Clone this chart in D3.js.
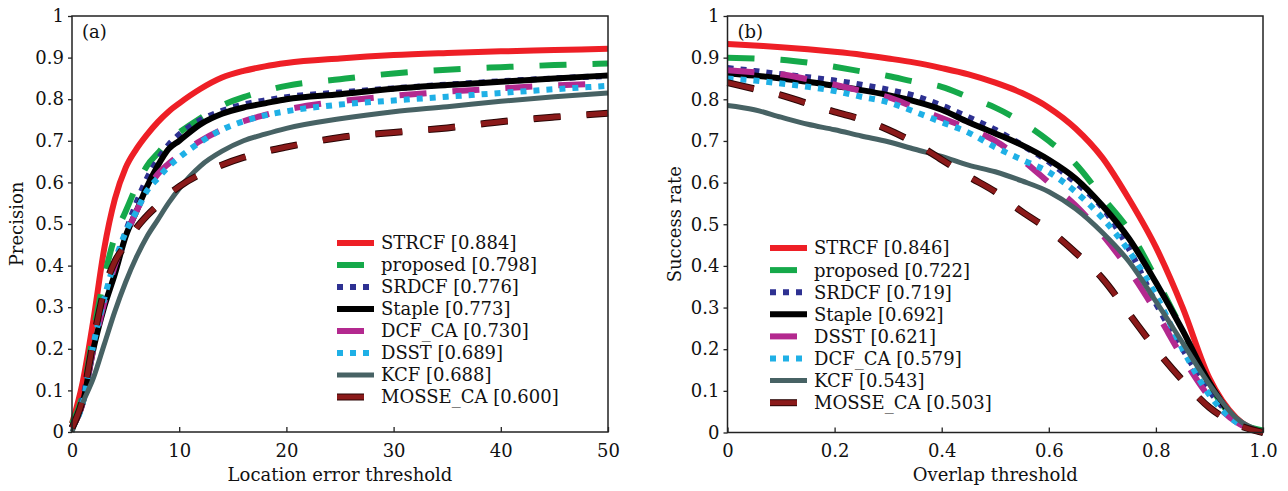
<!DOCTYPE html>
<html><head><meta charset="utf-8">
<script src="https://cdn.jsdelivr.net/npm/d3@7"></script>
<style>
html,body{margin:0;padding:0;background:#fff;}
svg text{font-family:"DejaVu Serif",serif;fill:#111;}
</style></head>
<body><svg id="c" width="1288" height="491"></svg>
<script>
// ---------- DATA ----------
const locThresholds = [0,1,2,3,4,5,6,7,8,9,10,12,14,16,18,20,25,30,35,40,45,50];
const precNames = ["STRCF [0.884]","proposed [0.798]","SRDCF [0.776]","Staple [0.773]","DCF_CA [0.730]","DSST [0.689]","KCF [0.688]","MOSSE_CA [0.600]"];
const precSTRCF   = [0.02,0.12,0.27,0.44,0.56,0.635,0.68,0.715,0.745,0.77,0.79,0.825,0.852,0.868,0.879,0.887,0.898,0.906,0.911,0.915,0.918,0.921];
const precProposed= [0.02,0.09,0.24,0.37,0.47,0.53,0.59,0.64,0.67,0.70,0.72,0.755,0.785,0.805,0.82,0.832,0.848,0.862,0.871,0.877,0.882,0.886];
const precSRDCF   = [0.01,0.08,0.21,0.31,0.40,0.48,0.55,0.61,0.655,0.69,0.715,0.75,0.772,0.787,0.797,0.805,0.816,0.826,0.835,0.843,0.85,0.856];
const precStaple  = [0.01,0.07,0.20,0.30,0.38,0.47,0.53,0.59,0.64,0.68,0.70,0.74,0.765,0.78,0.79,0.80,0.812,0.825,0.834,0.842,0.85,0.857];
const precDCFCA   = [0.01,0.07,0.20,0.31,0.40,0.47,0.53,0.58,0.62,0.645,0.665,0.70,0.727,0.747,0.762,0.775,0.795,0.808,0.818,0.826,0.833,0.838];
const precDSST    = [0.01,0.07,0.21,0.32,0.41,0.48,0.53,0.58,0.61,0.638,0.66,0.697,0.727,0.747,0.761,0.771,0.787,0.797,0.806,0.815,0.824,0.832];
const precKCF     = [0.0,0.07,0.13,0.21,0.29,0.36,0.42,0.47,0.51,0.55,0.585,0.64,0.675,0.70,0.716,0.73,0.753,0.77,0.782,0.795,0.806,0.815];
const precMOSSE   = [0.01,0.08,0.22,0.34,0.41,0.45,0.49,0.52,0.545,0.57,0.59,0.62,0.642,0.66,0.674,0.685,0.708,0.72,0.731,0.746,0.757,0.766];

const overlapThresholds = [0,0.05,0.1,0.15,0.2,0.25,0.3,0.35,0.4,0.45,0.5,0.55,0.6,0.65,0.7,0.75,0.8,0.85,0.9,0.95,1.0];
const succNames = ["STRCF [0.846]","proposed [0.722]","SRDCF [0.719]","Staple [0.692]","DSST [0.621]","DCF_CA [0.579]","KCF [0.543]","MOSSE_CA [0.503]"];
const succSTRCF   = [0.933,0.929,0.925,0.92,0.914,0.907,0.898,0.888,0.875,0.86,0.84,0.815,0.78,0.73,0.66,0.56,0.445,0.30,0.13,0.035,0.0];
const succProposed= [0.90,0.898,0.895,0.888,0.878,0.867,0.856,0.842,0.83,0.805,0.78,0.745,0.70,0.645,0.565,0.485,0.37,0.245,0.115,0.03,0.005];
const succSRDCF   = [0.875,0.868,0.86,0.853,0.845,0.835,0.823,0.808,0.785,0.757,0.727,0.69,0.65,0.60,0.54,0.44,0.31,0.20,0.10,0.03,0.0];
const succStaple  = [0.862,0.857,0.85,0.842,0.832,0.822,0.81,0.795,0.775,0.745,0.718,0.69,0.655,0.61,0.545,0.465,0.36,0.245,0.12,0.03,0.0];
const succDSST    = [0.87,0.865,0.86,0.848,0.835,0.82,0.805,0.78,0.755,0.73,0.70,0.655,0.60,0.545,0.475,0.39,0.29,0.18,0.085,0.025,0.0];
const succDCFCA   = [0.85,0.845,0.838,0.83,0.82,0.806,0.793,0.77,0.745,0.72,0.685,0.655,0.625,0.578,0.515,0.435,0.33,0.20,0.09,0.025,0.0];
const succKCF     = [0.785,0.775,0.757,0.74,0.727,0.712,0.698,0.68,0.663,0.642,0.626,0.604,0.578,0.537,0.48,0.41,0.315,0.215,0.115,0.035,0.0];
const succMOSSE   = [0.84,0.825,0.81,0.79,0.77,0.752,0.727,0.695,0.655,0.615,0.578,0.53,0.487,0.432,0.37,0.285,0.20,0.125,0.06,0.02,0.0];

const yTicks = [0,0.1,0.2,0.3,0.4,0.5,0.6,0.7,0.8,0.9,1];
const yTickLabels = ["0","0.1","0.2","0.3","0.4","0.5","0.6","0.7","0.8","0.9","1"];
const locTicks = [0,10,20,30,40,50];
const locTickLabels = ["0","10","20","30","40","50"];
const ovTicks = [0,0.2,0.4,0.6,0.8,1.0];
const ovTickLabels = ["0","0.2","0.4","0.6","0.8","1.0"];

// ---------- STYLES (by legend rank) ----------
const styles = [
  {color:"#ee1f26", width:6, dash:null},
  {color:"#15a94a", width:6, dash:"27,26"},
  {color:"#2e3192", width:6, dash:"6,7"},
  {color:"#000000", width:6, dash:null},
  {color:"#b3298f", width:6, dash:"27,26"},
  {color:"#1fb0e6", width:6, dash:"6,7"},
  {color:"#476264", width:5, dash:null},
  {color:"#8b1a1a", width:5, dash:"27,26", outline:"#2a0505"}
];

const svg = d3.select("#c");

function panel(cfg){
  const x = d3.scaleLinear().domain(cfg.xDomain).range([cfg.x0, cfg.x1]);
  const y = d3.scaleLinear().domain([0,1]).range([cfg.y1, cfg.y0]);
  const g = svg.append("g");

  const line = d3.line().x((d,i)=>x(cfg.xs[i])).y(d=>y(d)).curve(d3.curveMonotoneX);
  cfg.series.forEach((vals,k)=>{
    const s = styles[k];
    if (s.outline){
      g.append("path").attr("d", line(vals)).attr("fill","none")
       .attr("stroke", s.outline).attr("stroke-width", s.width+2)
       .attr("stroke-dasharray", s.dash);
    }
    g.append("path").attr("d", line(vals)).attr("fill","none")
     .attr("stroke", s.color).attr("stroke-width", s.width)
     .attr("stroke-dasharray", s.dash).attr("stroke-linejoin","round");
  });

  // frame
  g.append("rect").attr("x",cfg.x0).attr("y",cfg.y0)
   .attr("width",cfg.x1-cfg.x0).attr("height",cfg.y1-cfg.y0)
   .attr("fill","none").attr("stroke","#222").attr("stroke-width",1.5);

  // y axis (outward ticks)
  const ya = d3.axisLeft(y).tickValues(yTicks).tickSize(4).tickPadding(4)
     .tickFormat((d,i)=>yTickLabels[i]);
  const yg = g.append("g").attr("transform",`translate(${cfg.x0},0)`).call(ya);
  // x axis (inward ticks)
  const xa = d3.axisBottom(x).tickValues(cfg.xTicks).tickSizeInner(-5).tickSizeOuter(0).tickPadding(12)
     .tickFormat((d,i)=>cfg.xTickLabels[i]);
  const xg = g.append("g").attr("transform",`translate(0,${cfg.y1})`).call(xa);
  [yg,xg].forEach(a=>{
    a.select(".domain").remove();
    a.selectAll("line").attr("stroke","#222").attr("stroke-width",1.3);
    a.selectAll("text").attr("font-family","DejaVu Serif").attr("font-size",18).attr("fill","#111");
  });

  // labels
  g.append("text").attr("x",(cfg.x0+cfg.x1)/2).attr("y",481).attr("text-anchor","middle")
   .attr("font-size",18).text(cfg.xLabel);
  g.append("text").attr("transform",`translate(${cfg.yLabelX},${(cfg.y0+cfg.y1)/2}) rotate(-90)`)
   .attr("text-anchor","middle").attr("dy","0.35em").attr("font-size",18).text(cfg.yLabel);
  g.append("text").attr("x",cfg.x0+10).attr("y",38).attr("font-size",18).text(cfg.tag);

  // legend
  const lg = g.append("g");
  cfg.names.forEach((nm,k)=>{
    const s = styles[k];
    const yy = cfg.legY + k*cfg.legStep;
    if (s.outline){
      lg.append("line").attr("x1",cfg.legX).attr("x2",cfg.legX+37).attr("y1",yy).attr("y2",yy)
        .attr("stroke",s.outline).attr("stroke-width",s.width+2).attr("stroke-dasharray",s.dash);
    }
    lg.append("line").attr("x1",cfg.legX).attr("x2",cfg.legX+37).attr("y1",yy).attr("y2",yy)
      .attr("stroke",s.color).attr("stroke-width",s.width).attr("stroke-dasharray",s.dash);
    lg.append("text").attr("x",cfg.legX+44).attr("y",yy).attr("dy","0.36em")
      .attr("font-size",18).text(nm);
  });
}

panel({
  x0:72, x1:608, y0:16, y1:432, xDomain:[0,50], xs:locThresholds,
  series:[precSTRCF,precProposed,precSRDCF,precStaple,precDCFCA,precDSST,precKCF,precMOSSE],
  names:precNames, xTicks:locTicks, xTickLabels:locTickLabels,
  xLabel:"Location error threshold", yLabel:"Precision", yLabelX:17, tag:"(a)",
  legX:337, legY:243, legStep:22
});
panel({
  x0:727.5, x1:1263, y0:16, y1:432.5, xDomain:[0,1], xs:overlapThresholds,
  series:[succSTRCF,succProposed,succSRDCF,succStaple,succDSST,succDCFCA,succKCF,succMOSSE],
  names:succNames, xTicks:ovTicks, xTickLabels:ovTickLabels,
  xLabel:"Overlap threshold", yLabel:"Success rate", yLabelX:675, tag:"(b)",
  legX:770, legY:248, legStep:22.1
});
</script></body></html>
